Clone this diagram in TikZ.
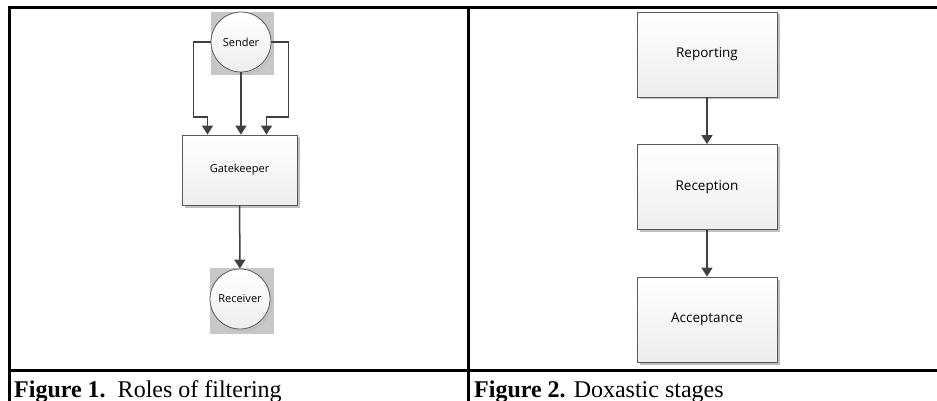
\documentclass[tikz,border=0pt]{standalone}
\usepackage{fontspec}
\setmainfont{Liberation Serif}
\newfontfamily\diafont{Open Sans}
\usepackage{xcolor}
\usepackage{tikz}
\usetikzlibrary{arrows.meta,positioning,shapes,shadows}

\tikzset{
  box/.style={draw=black!65, line width=0.8pt, top color=white, bottom color=black!7,
    drop shadow={shadow xshift=2.5pt, shadow yshift=-2.5pt, fill=black!25, opacity=1},
    font=\diafont\fontsize{11}{11}\selectfont},
  bigbox/.style={box, minimum width=140pt, minimum height=85pt, font=\diafont\fontsize{13.5}{13.5}\selectfont},
  role/.style={box, circle, minimum size=60pt, inner sep=0pt,
    drop shadow={shadow xshift=1pt, shadow yshift=-1pt, fill=black!20, opacity=1}},
  arr/.style={draw=black!75, line width=1.5pt, -{Triangle[length=9pt,width=11pt]}},
  frame/.style={line width=3pt, line cap=rect},
  caption/.style={anchor=base west, inner sep=0pt, font=\fontsize{24}{24}\selectfont}
}

\begin{document}
\begin{tikzpicture}[x=1pt,y=-1pt]
\useasboundingbox (0,0) rectangle (937,401);
\draw[frame] (9.5,401) -- (9.5,7.5) -- (940,7.5);
\draw[frame] (468.5,7.5) -- (468.5,401);
\draw[frame] (9.5,370.5) -- (940,370.5);

\fill[black!22] (211,12) rectangle (274,75);
\fill[black!22] (210,268) rectangle (274,334);
\node[role] (sender) at (241,42) {Sender};
\node[box, minimum width=115pt, minimum height=70pt] (gk) at (239.5,170) {Gatekeeper};
\node[role] (receiver) at (240,299) {Receiver};

\draw[arr] (sender.south) -- (sender.south |- gk.north);
\draw[arr] (sender.west) -| ++(-17,75) -| ([xshift=-32pt]gk.north);
\draw[arr] (sender.east) -| ++(17,75) -| ([xshift=27pt]gk.north);
\draw[arr] (gk) -- (receiver);

\node[bigbox] (reporting) at (707,54.5) {Reporting};
\node[bigbox] (reception) at (707,187) {Reception};
\node[bigbox] (acceptance) at (707,319.5) {Acceptance};
\draw[arr] (reporting) -- (reception);
\draw[arr] (reception) -- (acceptance);

\node[caption] (cap1) at (14,397) {\textbf{Figure 1.}\ \ Roles of filtering};
\node[caption] (cap2) at (474,397) {\textbf{Figure 2.} Doxastic stages};
\end{tikzpicture}
\end{document}
